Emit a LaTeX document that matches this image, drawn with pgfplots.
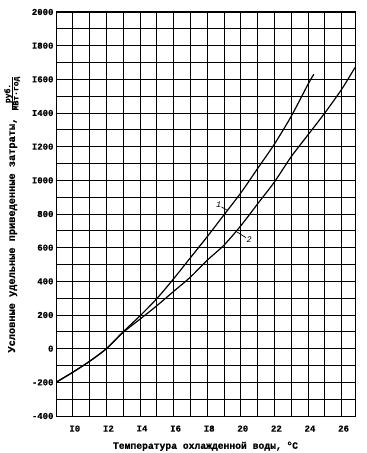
\documentclass[border=0pt]{standalone}
\usepackage{pgfplots}
\pgfplotsset{compat=1.18}
\usepackage{fontspec}
\setmainfont{Liberation Mono}[BoldFeatures={FakeBold=0.6}]
\begin{document}
\begin{tikzpicture}
\begin{axis}[
  scale only axis,
  width=299pt, height=404pt,
  xmin=9, xmax=26.8,
  ymin=-400, ymax=2000,
  xtick={10,12,14,16,18,20,22,24,26},
  xticklabels={I0,I2,I4,I6,I8,20,22,24,26},
  minor xtick={9,11,13,15,17,19,21,23,25},
  ytick={-400,-200,0,200,400,600,800,1000,1200,1400,1600,1800,2000},
  yticklabels={-400,-200,0,200,400,600,800,I000,I200,I400,I600,I800,2000},
  minor ytick={-300,-100,100,300,500,700,900,1100,1300,1500,1700,1900},
  grid=both,
  major grid style={black, line width=0.75pt},
  minor grid style={black, line width=0.75pt},
  axis line style={black, line width=1pt},
  major tick length=0pt, minor tick length=0pt,
  /pgf/number format/assume math mode=true,
  tick label style={font=\fontsize{9}{10}\selectfont\bfseries},
  yticklabel style={xshift=1pt},
  xticklabel style={xshift=2pt, yshift=-6pt},
  xlabel={Температура охлажденной воды, \textsuperscript{o}С},
  xlabel style={font=\fontsize{9.7}{11}\selectfont\bfseries, yshift=-3pt},
  ylabel={Условные удельные приведенные затраты, $\frac{\mbox{\fontsize{8}{9}\selectfont\bfseries руб.}}{\mbox{\fontsize{8}{9}\selectfont\bfseries МВт·год}}$},
  ylabel style={font=\fontsize{10.3}{12}\selectfont\bfseries, yshift=5pt},
]
\addplot[black, line width=1.2pt, smooth] coordinates {
(9,-200) (10,-140) (11,-75) (12,0) (13,100) (14,195) (15,297) (16,415)
(17,540) (18,665) (19,795) (20,925) (21,1070) (22,1215) (23,1380) (24,1570) (24.35,1630)
};
\addplot[black, line width=1.2pt, smooth] coordinates {
(9,-200) (10,-140) (11,-75) (12,0) (13,97) (14,175) (15,255) (16,340) (17,425) (18,525) (19,615) (20,730)
(21,860) (22,990) (23,1140) (24,1270) (25,1400) (26,1540) (26.8,1670)
};
\draw[black, line width=0.7pt] (axis cs:18.85,842) -- (axis cs:19.2,822);
\node[font=\fontsize{8.5}{9}\selectfont\itshape] at (axis cs:18.68,855) {1};
\draw[black, line width=0.7pt] (axis cs:19.78,693) -- (axis cs:20.3,660);
\node[font=\fontsize{8.5}{9}\selectfont\itshape] at (axis cs:20.5,650) {2};
\end{axis}
\pgfresetboundingbox
\path (current axis.south west) +(-56pt,-37pt) (current axis.north east) +(11pt,12pt);
\end{tikzpicture}
\end{document}
